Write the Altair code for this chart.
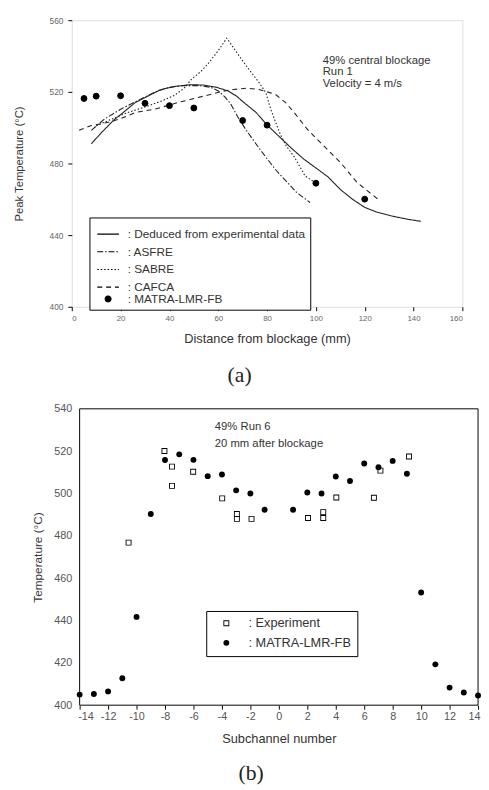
import altair as alt
import pandas as pd

# ---------------- panel (a) data ----------------
a_series = ["Deduced from experimental data", "ASFRE", "SABRE", "CAFCA", "MATRA-LMR-FB"]
a_dash = [[1, 0], [6, 2, 1.5, 2], [1.5, 2], [5, 4], [1, 0]]
a_shape = ["stroke", "stroke", "stroke", "stroke", "circle"]
a_size = [484, 484, 484, 484, 36]
a_fill = ["transparent", "transparent", "transparent", "transparent", "black"]

ded_x = [8, 12, 17, 22, 26, 31, 36, 42, 48.7, 54, 59.4, 64, 67.5, 71, 75.5, 80, 85, 90, 95, 100, 105, 110, 115, 120, 125, 131.7, 137, 143]
ded_y = [491, 497, 504, 509.5, 514, 517.5, 521, 523, 524, 523.8, 522.5, 520.5, 517.6, 513.5, 508.5, 501.5, 495, 488.5, 482.5, 477.5, 472.5, 465.5, 460, 455.5, 452.8, 450.5, 449, 447.7]

asfre_x = [8, 13.4, 20, 26.8, 33.5, 38.8, 45, 52, 57, 60, 62.5, 65, 68, 71.5, 76.8, 83.5, 92.2, 97.6]
asfre_y = [498.5, 504.8, 510.3, 515, 519.5, 522.2, 523.5, 523.5, 522.5, 520.5, 517.5, 513.5, 506, 498.5, 488.4, 476.5, 463.7, 458.2]

sabre_x = [10, 15, 23, 31, 37, 42, 46, 49, 53, 56, 60, 63.5, 68.8, 72.8, 76.8, 79.5, 81.5, 83.5, 85.5, 88, 91, 95.6, 99]
sabre_y = [501, 504, 508.5, 512, 515, 518, 522, 527, 531.5, 536, 543, 550, 539.6, 532.2, 525, 519.5, 510.3, 503, 496, 489.5, 484, 473, 470]

cafca_x = [3, 8, 15, 20, 26, 34, 43.4, 54, 62.1, 66.1, 71.5, 76.2, 80, 83.5, 87.6, 91.6, 96.3, 99.6, 110.3, 117, 126.4]
cafca_y = [498.5, 501.2, 503, 505, 508.5, 510.3, 514, 517.6, 520.4, 521.3, 522, 521.5, 520, 518.5, 514, 507.6, 499.4, 494.8, 480.2, 469.2, 459]

matra_a_x = [5, 10, 20, 30, 40, 50, 70, 80, 100, 120]
matra_a_y = [516.3, 517.6, 517.8, 513.6, 512.3, 511, 504, 501.4, 469, 460.1]

a_x_ticks = [0, 20, 40, 60, 80, 100, 120, 140, 160]
a_y_ticks = [400, 440, 480, 520, 560]

a_notes = ["49% central blockage", "Run 1", "Velocity = 4 m/s"]
a_note_x = [102.8, 102.8, 102.8]
a_note_y = [537, 530.8, 524.4]

# ---------------- panel (b) data ----------------
b_series = ["Experiment", "MATRA-LMR-FB"]
# open square drawn as a filled ring, and a filled circle
b_shape = ["M-1,-1H1V1H-1Z M-0.7,-0.7V0.7H0.7V-0.7Z", "circle"]

exp_x = [-10.56, -8.04, -7.51, -7.51, -6.02, -3.98, -2.95, -2.95, -1.92, 2.05, 3.12, 3.12, 4.04, 6.68, 7.14, 9.15]
exp_y = [476.8, 520.1, 512.7, 503.6, 510.3, 497.7, 490.3, 488, 488, 488.4, 491.2, 488.4, 498.1, 498, 510.8, 517.5]

matra_b_x = [-14, -13, -12, -11, -10, -9, -8, -7, -6, -5, -4, -3, -2, -1, 1, 2, 3, 4, 5, 6, 7, 8, 9, 10, 11, 12, 13, 14]
matra_b_y = [405, 405.3, 406.5, 412.7, 441.7, 490.3, 515.8, 518.5, 515.9, 508.2, 509, 501.5, 500, 492.3, 492.3, 500.5, 500, 508, 505.9, 514.2, 512.4, 515.4, 509.3, 453.2, 419.3, 408.3, 406, 404.6]

b_x_ticks = list(range(-14, 15, 2))
b_y_ticks = [400, 420, 440, 460, 480, 500, 520, 540]

b_notes = ["49% Run 6", "20 mm after blockage"]
b_note_x = [-4.5, -4.5]
b_note_y = [531.4, 523.5]

FONT = "Liberation Sans"
TXT = "#333333"

# ================= panel (a) =================
WA, HA = 398, 292
xs_a = alt.Scale(domain=[0, 160], nice=False, zero=False)
ys_a = alt.Scale(domain=[400, 560], nice=False, zero=False)

xax_a = alt.Axis(
    values=a_x_ticks, ticks=True, tickSize=4, tickColor="black", tickWidth=1,
    domain=False, grid=False,
    labelFont=FONT, labelFontSize=8, labelColor="#666666", labelPadding=4,
    title="Distance from blockage (mm)", titleFont=FONT, titleFontSize=13,
    titleFontWeight="normal", titleColor=TXT, titlePadding=10)
yax_a = alt.Axis(
    values=a_y_ticks, ticks=True, tickSize=4, tickColor="black", tickWidth=1,
    domain=False, grid=False,
    labelFont=FONT, labelFontSize=8.5, labelColor="#666666", labelPadding=5,
    title="Peak Temperature (°C)", titleFont=FONT, titleFontSize=11.5,
    titleFontWeight="normal", titleColor=TXT, titlePadding=25)

rows = []
for name, xv, yv in ((a_series[0], ded_x, ded_y), (a_series[1], asfre_x, asfre_y),
                     (a_series[2], sabre_x, sabre_y), (a_series[3], cafca_x, cafca_y)):
    for i, (u, v) in enumerate(zip(xv, yv)):
        rows.append({"series": name, "x": u, "y": v, "o": i})
lines_a = pd.DataFrame(rows)
pts_a = pd.DataFrame({"series": a_series[4], "x": matra_a_x, "y": matra_a_y})


def leg_a():
    return alt.Legend(
        title=None, orient="none", legendX=18, legendY=201, direction="vertical",
        strokeColor="black", fillColor="white", padding=5,
        labelFont=FONT, labelFontSize=12, labelColor=TXT, labelLimit=400,
        labelExpr="': ' + datum.label",
        symbolStrokeWidth=1.1, symbolOpacity=1,
        symbolOffset=2, labelOffset=8, rowPadding=-2,
    )


line_layer = alt.Chart(lines_a).mark_line(color="#222222", strokeWidth=1.1).encode(
    x=alt.X("x:Q", scale=xs_a, axis=xax_a),
    y=alt.Y("y:Q", scale=ys_a, axis=yax_a),
    strokeDash=alt.StrokeDash("series:N", scale=alt.Scale(domain=a_series, range=a_dash), legend=leg_a()),
    detail="series:N",
    order="o:Q",
)

pt_layer_a = alt.Chart(pts_a).mark_point(filled=True, strokeWidth=1, opacity=1).encode(
    x=alt.X("x:Q", scale=xs_a, axis=xax_a), y=alt.Y("y:Q", scale=ys_a, axis=yax_a),
    shape=alt.Shape("series:N", scale=alt.Scale(domain=a_series, range=a_shape), legend=leg_a()),
    size=alt.Size("series:N", scale=alt.Scale(type="ordinal", domain=a_series, range=a_size), legend=leg_a()),
    fill=alt.Fill("series:N", scale=alt.Scale(domain=a_series, range=a_fill), legend=leg_a()),
    stroke=alt.Stroke("series:N", scale=alt.Scale(domain=a_series, range=["black"] * 5), legend=leg_a()),
)

note_a = alt.Chart(pd.DataFrame({"t": a_notes, "x": a_note_x, "y": a_note_y})).mark_text(
    align="left", baseline="middle", font=FONT, fontSize=11.5, color=TXT).encode(
    x=alt.X("x:Q", scale=xs_a, axis=xax_a), y=alt.Y("y:Q", scale=ys_a, axis=yax_a), text="t:N")

pad_a = alt.Chart(pd.DataFrame({"k": [0]})).mark_rule(color="white", strokeWidth=1).encode(
    x=alt.value(-64), y=alt.value(0), y2=alt.value(1))

chart_a = alt.layer(line_layer, pt_layer_a, note_a, pad_a).properties(
    width=WA, height=HA,
    title=alt.TitleParams("(a)", orient="bottom", font="Liberation Serif", fontSize=22,
                          fontWeight="normal", color="#222222", offset=21, frame="bounds",
                          anchor="middle", dx=4),
)

# ================= panel (b) =================
# the plot group starts 8px left of panel (b)'s frame, so the x range is shifted
XB0, WB, HB = 8, 414, 302
xs_b = alt.Scale(domain=[-14, 14], nice=False, zero=False, range=[XB0, WB])
ys_b = alt.Scale(domain=[400, 540], nice=False, zero=False)

xax_b = alt.Axis(
    values=b_x_ticks, ticks=True, tickSize=4, tickColor="black", tickWidth=1,
    domain=False, grid=False,
    labelExpr="'' + datum.value", labelFlush=True, labelFlushOffset=2,
    labelFont=FONT, labelFontSize=11, labelColor="#555555", labelPadding=2,
    title="Subchannel number", titleFont=FONT, titleFontSize=13,
    titleFontWeight="normal", titleColor=TXT, titlePadding=11)
yax_b = alt.Axis(
    values=b_y_ticks, ticks=False, tickSize=0, domain=False, grid=False,
    labelFont=FONT, labelFontSize=11, labelColor="#555555", labelPadding=0,
    title="Temperature (°C)", titleFont=FONT, titleFontSize=12,
    titleFontWeight="normal", titleColor=TXT, titlePadding=10)

pts_b = pd.DataFrame({
    "series": [b_series[0]] * len(exp_x) + [b_series[1]] * len(matra_b_x),
    "x": exp_x + matra_b_x,
    "y": exp_y + matra_b_y,
})

leg_b = alt.Legend(
    title=None, orient="none", legendX=137, legendY=206, direction="vertical",
    strokeColor="black", fillColor="white", padding=6,
    labelFont=FONT, labelFontSize=13, labelColor=TXT,
    labelExpr="': ' + datum.label",
    symbolSize=36, symbolOffset=8, labelOffset=16, rowPadding=6, symbolOpacity=1,
)

pt_layer_b = alt.Chart(pts_b).mark_point(size=36, filled=True, color="black", opacity=1).encode(
    x=alt.X("x:Q", scale=xs_b, axis=xax_b),
    y=alt.Y("y:Q", scale=ys_b, axis=yax_b),
    shape=alt.Shape("series:N", scale=alt.Scale(domain=b_series, range=b_shape), legend=leg_b),
)

note_b = alt.Chart(pd.DataFrame({"t": b_notes, "x": b_note_x, "y": b_note_y})).mark_text(
    align="left", baseline="middle", font=FONT, fontSize=11.5, color=TXT).encode(
    x=alt.X("x:Q", scale=xs_b, axis=xax_b), y=alt.Y("y:Q", scale=ys_b, axis=yax_b), text="t:N")

# frame of panel (b), drawn from its shifted left edge to the right edge
fb = alt.Chart(pd.DataFrame({"k": [0]})).mark_rule(color="black", strokeWidth=1)
frame_b = [
    fb.encode(x=alt.value(XB0), x2=alt.value(WB), y=alt.value(0)),
    fb.encode(x=alt.value(XB0), x2=alt.value(WB), y=alt.value(HB)),
    fb.encode(x=alt.value(XB0), y=alt.value(0), y2=alt.value(HB)),
    fb.encode(x=alt.value(WB), y=alt.value(0), y2=alt.value(HB)),
]

chart_b = alt.layer(pt_layer_b, note_b, *frame_b).properties(
    width=WB, height=HB, view=alt.ViewBackground(stroke=None),
    title=alt.TitleParams("(b)", orient="bottom", font="Liberation Serif", fontSize=22,
                          fontWeight="normal", color="#222222", offset=18, frame="bounds",
                          anchor="middle", dx=-5),
)

IND = dict(shape="independent", size="independent", strokeDash="independent",
           stroke="independent", fill="independent")

chart = alt.vconcat(chart_a, chart_b, spacing=16).resolve_scale(**IND).resolve_legend(**IND).properties(
    padding={"left": 0, "top": 0, "right": 0, "bottom": 0}
).configure_view(stroke="black", strokeWidth=1).configure(background="white")

chart.save("out.html", embed_options={"renderer": "svg", "actions": False})
